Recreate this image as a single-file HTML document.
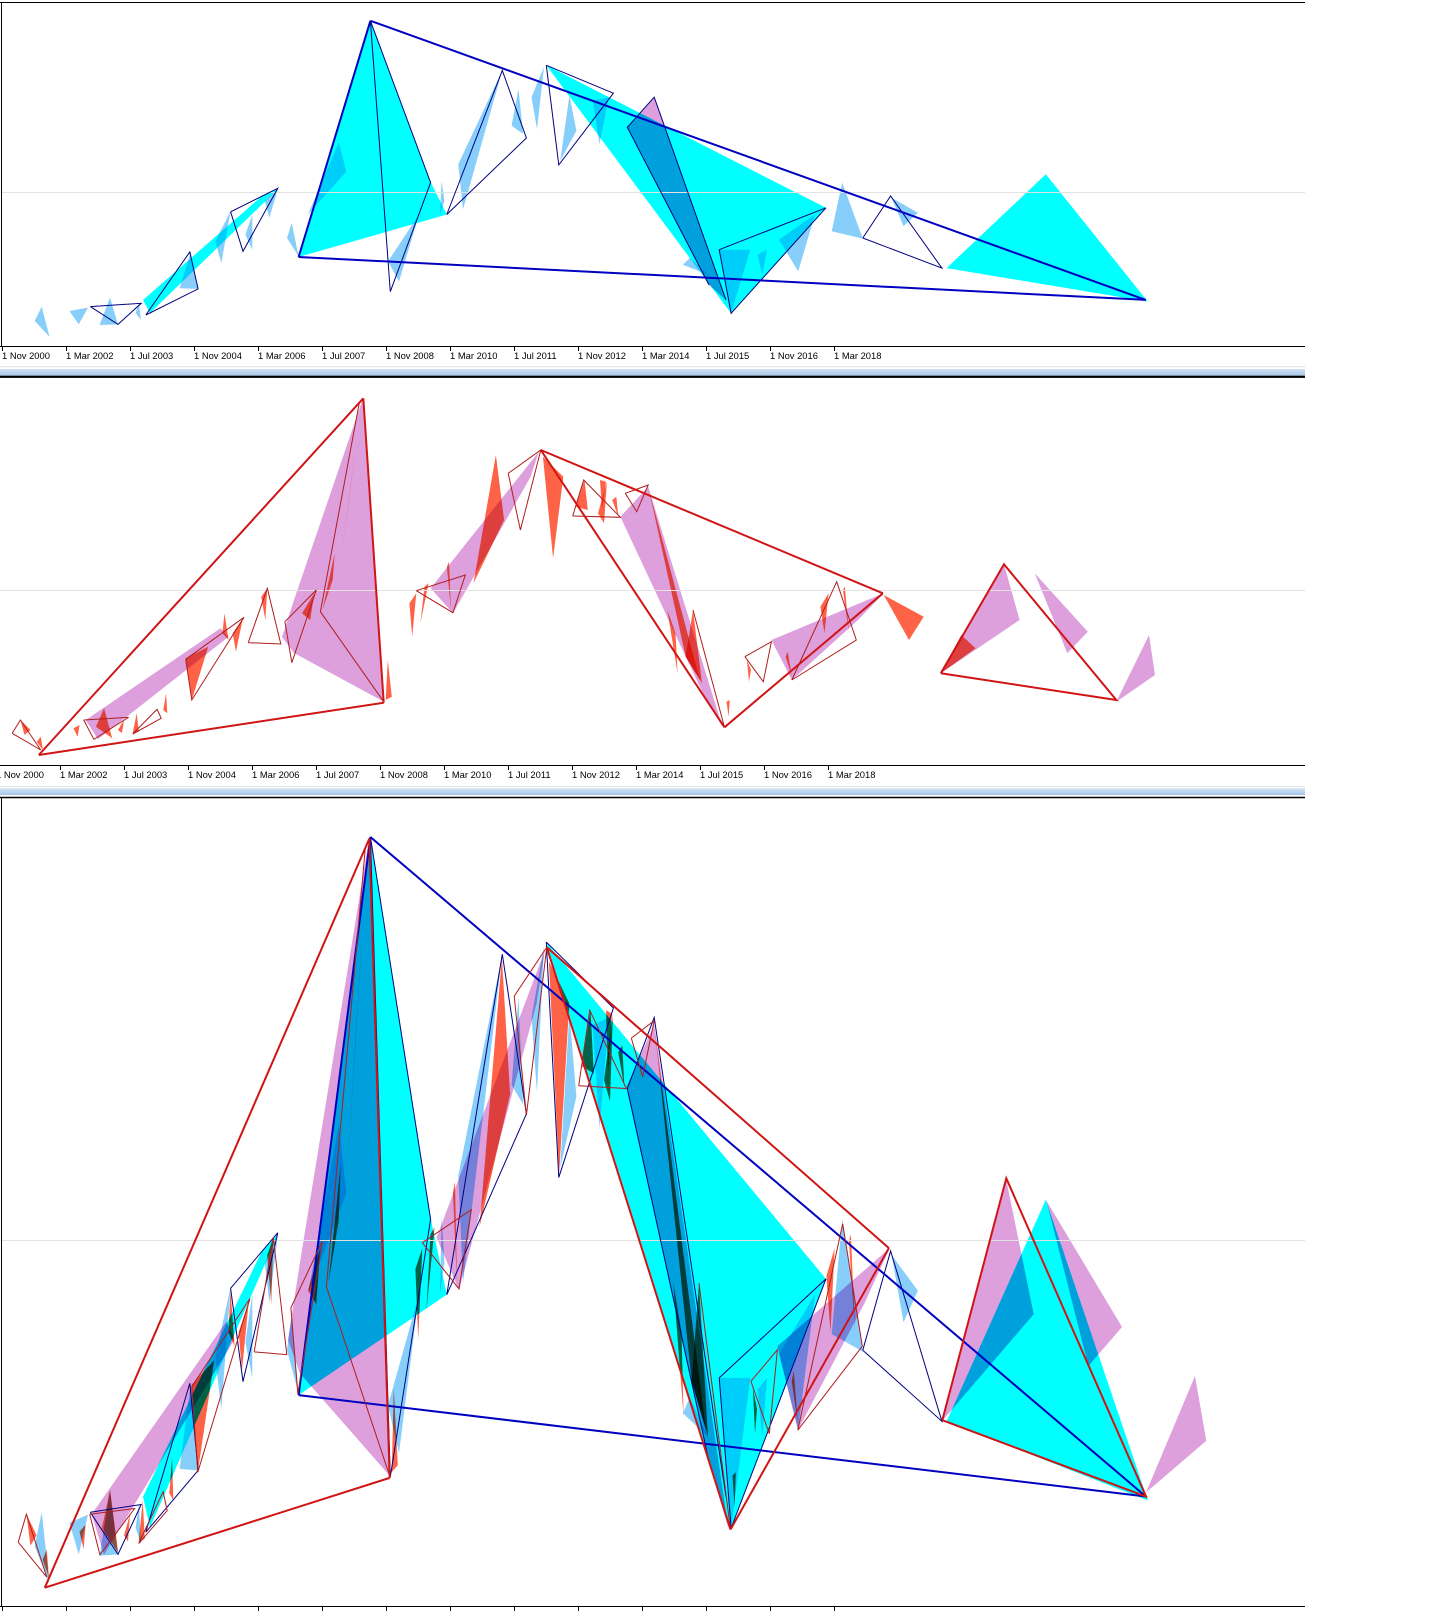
<!DOCTYPE html>
<html>
<head>
<meta charset="utf-8">
<style>
html,body{margin:0;padding:0;background:#fff;}
body{width:1451px;height:1620px;overflow:hidden;position:relative;}
svg{position:absolute;left:0;top:0;}
.c{fill:#00ffff}
.b{fill:#87cefa}
.p{fill:#dda0dd}
.o{fill:#ff6347}
.c,.b,.p,.o,.m{mix-blend-mode:multiply}
.k{stroke:#0000c0;stroke-width:2;fill:none}
.n{stroke:#000080;stroke-width:1;fill:none}
.r{stroke:#d01414;stroke-width:2;fill:none}
.f{stroke:#b01c1c;stroke-width:1;fill:none}
.k,.n,.r,.f{vector-effect:non-scaling-stroke}
.ax{stroke:#000;stroke-width:1;fill:none}
.gr{stroke:#e2e2e2;stroke-width:1}
text{font-family:"Liberation Sans",Arial,sans-serif;font-size:9.4px;fill:#000;}
</style>
</head>
<body>
<svg width="1451" height="1620" viewBox="0 0 1451 1620" xmlns="http://www.w3.org/2000/svg">
<defs>
  <linearGradient id="sep" x1="0" y1="0" x2="0" y2="1">
    <stop offset="0" stop-color="#d2e3f4"/>
    <stop offset="1" stop-color="#a3c6e7"/>
  </linearGradient>
  <clipPath id="c1"><rect x="2" y="3" width="1303" height="343"/></clipPath>
  <clipPath id="c2"><rect x="0" y="379" width="1305" height="386"/></clipPath>
  <clipPath id="c3"><rect x="2" y="798" width="1303" height="808"/></clipPath>

  <!-- BLUE SET fills (panel 1 coordinates) -->
  <g id="blueF">
    <polygon class="c" points="298.6,257 370.4,20.8 432,185 446.8,214.5"/>
    <polygon class="c" points="546.3,65.3 826,207.8 731,313.3"/>
    <polygon class="c" points="1045.8,174.3 1147.8,301.6 946.6,268.1"/>
    <polygon class="c" points="143,300 262,196 278,189 150,313"/>

    <polygon class="b" points="34.7,321 41.7,306.6 49.5,336.8"/>
    <polygon class="b" points="69.4,311 88,307.6 78.7,324.4"/>
    <polygon class="b" points="99.5,325 110,297.6 118,324.4"/>
    <polygon class="b" points="135.6,313 138.9,303 141,320"/>
    <polygon class="b" points="179.6,288.2 190.7,252 198,288.9"/>
    <polygon class="b" points="215.3,241.3 230.6,211.1 221.3,263.1"/>
    <polygon class="b" points="245.4,234.6 252.3,214.5 252.3,249.7"/>
    <polygon class="b" points="264.8,201 277.8,189.3 269.4,217.8"/>
    <polygon class="b" points="287,238 291.7,222.9 298.6,256.4"/>
    <polygon class="b" points="307.9,214.5 338.9,142.4 346.3,171.6"/>
    <polygon class="b" points="388,261.4 419,214.5 399,281.5"/>
    <polygon class="b" points="441.6,181 444.4,201 440,214.5"/>
    <polygon class="b" points="458.3,164.2 502.3,70.4 463,209.4"/>
    <polygon class="b" points="511.6,125.7 518.5,88.8 523.1,134"/>
    <polygon class="b" points="531.5,97.2 544,67 537,129"/>
    <polygon class="b" points="560.2,160.9 569.4,95.5 576.4,130.7"/>
    <polygon class="b" points="592.6,100.5 608.8,97.2 599.5,144.1"/>
    <polygon class="b" points="682.9,264.7 689.8,258 708.3,274.8"/>
    <polygon class="b" points="719.2,249.7 750.3,249.7 731.1,313.3"/>
    <polygon class="b" points="757.5,254.7 767,249.7 762.3,274.8"/>
    <polygon class="b" points="779,239.6 815,214.5 798.2,271.4"/>
    <polygon class="b" points="842.2,182.6 831.7,231.2 862.8,238.6"/>
    <polygon class="b" points="891.6,197.7 917.9,212.8 903.5,226.2"/>
  </g>

  <!-- BLUE SET lines -->
  <g id="blueL">
    <polyline class="n" points="90.3,306.6 141.2,303.3 118,324.4 90.3,306.6"/>
    <polyline class="n" points="145.8,315 189.8,252 198.1,288.9 145.8,315"/>
    <polyline class="n" points="230.6,211.8 277.8,188.3 243,251.3 230.6,211.8"/>
    <polyline class="n" points="370.4,20.8 390.3,291.6 430.6,182.6 370.4,20.8"/>
    <polyline class="n" points="446.8,214.5 502.3,70.4 526.4,138 446.8,214.5"/>
    <polyline class="n" points="546.3,65.3 613.4,93.2 558.8,164.9 546.3,65.3"/>
    <polyline class="n" points="709,285 627.3,127.3 654.2,97.2 726,300"/>
    <polyline class="n" points="719.2,249.7 826,207.8 731.1,313.3 719.2,249.7"/>
    <polyline class="n" points="862.8,238 890.6,196 941.9,268.1 862.8,238"/>

    <line class="k" x1="370.4" y1="20.8" x2="1145.8" y2="299.9"/>
    <line class="k" x1="298.6" y1="257" x2="1145.8" y2="299.9"/>
    <line class="k" x1="298.6" y1="257" x2="370.4" y2="20.8"/>
  </g>

  <!-- RED SET fills (panel 2 coordinates) -->
  <g id="redF">
    <polygon class="p" points="362.4,400 294,600 282,637 294,653 383.7,701.7"/>
    <polygon class="p" points="85.7,720 220.4,628.3 228.6,636.7 98,739.3"/>
    <polygon class="p" points="430.6,588.3 538.8,451.7 530.6,476.7 453,613.3"/>
    <polygon class="p" points="620.4,516.7 648.2,486.7 722.4,726.7 706,700"/>
    <polygon class="p" points="771.4,640 883.7,593.3 858,620 791.8,680"/>

    <polygon class="o" points="185.7,658.3 208.2,646.7 191.8,700"/>
    <polygon class="o" points="473.5,583.3 495.9,455 504.1,520"/>
    <polygon class="o" points="542.9,456.7 563.3,476.7 553.1,558.3"/>
    <polygon class="o" points="575.5,506.7 584.5,480 587.8,510"/>
    <polygon class="o" points="598,513.3 606.9,481.7 604,523.3"/>
    <polygon class="o" points="340.8,563 357,437 350,490"/>
    <polygon class="o" points="322.4,610 334.7,553.3 332.7,580"/>
    <polygon class="o" points="302,613.3 314.3,593.3 310.2,620"/>
    <polygon class="o" points="261.2,596.7 267.3,588.3 265.3,620"/>
    <polygon class="o" points="222.4,633.3 224.5,613.3 228.6,640"/>
    <polygon class="o" points="232.7,633.3 242.9,618.3 235.9,651.7"/>
    <polygon class="o" points="387.8,660 391.8,696.7 385.7,700"/>
    <polygon class="o" points="409.4,603.3 416.3,593.3 412.2,636.7"/>
    <polygon class="o" points="424.5,586.7 428.6,583.3 420.4,623.3"/>
    <polygon class="o" points="446.9,566.7 449,561.7 451,610"/>
    <polygon class="o" points="20.4,720 30.6,730 24.5,735"/>
    <polygon class="o" points="36.7,741.7 40.8,736.7 42.9,750"/>
    <polygon class="o" points="73.5,728.3 79.6,725 77.6,736.7"/>
    <polygon class="o" points="95.9,726.7 104.1,708.3 112.2,738.3"/>
    <polygon class="o" points="118,730 124,720 122,733"/>
    <polygon class="o" points="132.7,733.3 136.7,713.3 138.8,731.7"/>
    <polygon class="o" points="163.3,710 166.1,693.3 167.3,713.3"/>
    <polygon class="o" points="600,480 606,481.7 602,510"/>
    <polygon class="o" points="612.2,500 616.3,496.7 618.4,516.7"/>
    <polygon class="o" points="649,490 657,520 700,680 685.7,656.7"/>
    <polygon class="o" points="667.3,610 675.5,633.3 677.6,673.3"/>
    <polygon class="o" points="685.7,656.7 693,610 702,683.3"/>
    <polygon class="o" points="726.5,701.7 729.8,700 728.6,716.7"/>
    <polygon class="o" points="746.9,660 751,670 749,681.7"/>
    <polygon class="o" points="785.7,656.7 787.8,651.7 791.8,676.7"/>
    <polygon class="o" points="820.4,606.7 828.6,593.3 824.5,633.3"/>
    <polygon class="o" points="842.9,590 844.9,586.7 849,633.3"/>
  </g>

  <!-- RED SET lines -->
  <g id="redL">
    <polyline class="f" points="12.2,733.3 20.4,720 40.8,750 12.2,733.3"/>
    <polyline class="f" points="83.7,720 128.6,717.3 93.9,739.3 83.7,720"/>
    <polyline class="f" points="132.7,734 157.1,709.3 161.2,718.3 132.7,734"/>
    <polyline class="f" points="185.7,659.3 244,617.3 191.8,700 185.7,659.3"/>
    <polyline class="f" points="248.2,642.7 267.3,588.3 280.8,644 248.2,642.7"/>
    <polyline class="f" points="284.9,621.7 316.3,590 291.8,662.7 284.9,621.7"/>
    <polyline class="f" points="359.2,403.3 320.4,611.7 383.7,701.7"/>
    <polyline class="f" points="508.2,473.3 540.8,450 520.4,530 508.2,473.3"/>
    <polyline class="f" points="416.3,590.7 465.3,575 453,612.7 416.3,590.7"/>
    <polyline class="f" points="572.7,516 583.7,480 620.4,517.3 572.7,516"/>
    <polyline class="f" points="625.3,493.3 648.2,485 636.7,511.7 625.3,493.3"/>
    <polyline class="f" points="744.9,656.7 771.4,641.7 763.3,681.7 744.9,656.7"/>
    <polyline class="f" points="791.8,680 836.7,581.7 856.3,640 791.8,680"/>
    <line class="f" x1="693" y1="610" x2="724.5" y2="727.3"/>

    <line class="r" x1="38.8" y1="755" x2="363.3" y2="398.3"/>
    <line class="r" x1="38.8" y1="755" x2="383.7" y2="702.7"/>
    <line class="r" x1="363.3" y1="398.3" x2="383.7" y2="702.7"/>
    <line class="r" x1="540.8" y1="450" x2="724.5" y2="727.3"/>
    <line class="r" x1="540.8" y1="450" x2="882.9" y2="593.3"/>
    <line class="r" x1="724.5" y1="727.3" x2="882.9" y2="593.3"/>
  </g>
</defs>

<!-- ================= PANEL 1 ================= -->
<g clip-path="url(#c1)">
  <polygon class="p" points="627.3,127.3 654.2,97.2 726,300 709,285"/>
  <use class="m" href="#blueF"/>
  <line class="gr" x1="0" y1="192.5" x2="1305" y2="192.5"/>
  <use href="#blueL"/>
</g>
<line class="ax" x1="0" y1="2.5" x2="1305" y2="2.5"/>
<line class="ax" x1="1.5" y1="2" x2="1.5" y2="347"/>
<line class="ax" x1="0" y1="346.5" x2="1305" y2="346.5"/>
<g class="ax">
  <path d="M2.5 347V351M66.5 347V351M130.5 347V351M194.5 347V351M258.5 347V351M322.5 347V351M386.5 347V351M450.5 347V351M514.5 347V351M578.5 347V351M642.5 347V351M706.5 347V351M770.5 347V351M834.5 347V351"/>
</g>
<g>
  <text x="2" y="359">1 Nov 2000</text>
  <text x="66" y="359">1 Mar 2002</text>
  <text x="130" y="359">1 Jul 2003</text>
  <text x="194" y="359">1 Nov 2004</text>
  <text x="258" y="359">1 Mar 2006</text>
  <text x="322" y="359">1 Jul 2007</text>
  <text x="386" y="359">1 Nov 2008</text>
  <text x="450" y="359">1 Mar 2010</text>
  <text x="514" y="359">1 Jul 2011</text>
  <text x="578" y="359">1 Nov 2012</text>
  <text x="642" y="359">1 Mar 2014</text>
  <text x="706" y="359">1 Jul 2015</text>
  <text x="770" y="359">1 Nov 2016</text>
  <text x="834" y="359">1 Mar 2018</text>
</g>

<!-- separator 1 -->
<rect x="0" y="366" width="1305" height="1.2" fill="#e6e6e6"/>
<rect x="0" y="369" width="1305" height="6.8" fill="url(#sep)"/>
<rect x="0" y="375.7" width="1305" height="2.2" fill="#000"/>

<!-- ================= PANEL 2 ================= -->
<g clip-path="url(#c2)">
  <use class="m" href="#redF"/>
  <polygon class="p" points="940.8,673.3 1004,564.3 1019.6,620"/>
  <polygon class="o" points="940.8,673.3 961.2,635 975.5,648.3"/>
  <polygon class="p" points="1034.7,573.3 1087.8,631.7 1067.3,653.3"/>
  <polygon class="p" points="1116.3,701.7 1149,635 1155,675"/>
  <polygon class="o" points="883.7,595 923.7,616.7 909,640"/>
  <line class="gr" x1="0" y1="590.5" x2="1305" y2="590.5"/>
  <use href="#redL"/>
  <polyline class="r" points="940.8,673.3 1004,564.3 1116.3,700 940.8,673.3"/>
</g>
<line class="ax" x1="0" y1="765.5" x2="1305" y2="765.5"/>
<g class="ax">
  <path d="M60.5 766V770M124.5 766V770M188.5 766V770M252.5 766V770M316.5 766V770M380.5 766V770M444.5 766V770M508.5 766V770M572.5 766V770M636.5 766V770M700.5 766V770M764.5 766V770M828.5 766V770"/>
</g>
<g>
  <text x="-4" y="778">1 Nov 2000</text>
  <text x="60" y="778">1 Mar 2002</text>
  <text x="124" y="778">1 Jul 2003</text>
  <text x="188" y="778">1 Nov 2004</text>
  <text x="252" y="778">1 Mar 2006</text>
  <text x="316" y="778">1 Jul 2007</text>
  <text x="380" y="778">1 Nov 2008</text>
  <text x="444" y="778">1 Mar 2010</text>
  <text x="508" y="778">1 Jul 2011</text>
  <text x="572" y="778">1 Nov 2012</text>
  <text x="636" y="778">1 Mar 2014</text>
  <text x="700" y="778">1 Jul 2015</text>
  <text x="764" y="778">1 Nov 2016</text>
  <text x="828" y="778">1 Mar 2018</text>
</g>

<!-- separator 2 -->
<rect x="0" y="786" width="1305" height="1.2" fill="#e6e6e6"/>
<rect x="0" y="788.3" width="1305" height="6.8" fill="url(#sep)"/>

<!-- ================= PANEL 3 ================= -->
<g clip-path="url(#c3)">
  <use class="m" href="#blueF" transform="matrix(1 0 0 2.363 0 787.8)"/>
  <use class="m" href="#redF" transform="matrix(1 0 0 2.1 6 2.2)"/>
  <polygon class="p" points="943,1420 1006.3,1180 1033.7,1314.2"/>
  <polygon class="p" points="1046.3,1200.5 1122,1327 1088.4,1366"/>
  <polygon class="p" points="1146,1492.5 1195,1376 1206.3,1440.8"/>
  <line class="gr" x1="0" y1="1240.5" x2="1305" y2="1240.5"/>
  <use href="#blueL" transform="matrix(1 0 0 2.363 0 787.8)"/>
  <use href="#redL" transform="matrix(1 0 0 2.1 6 2.2)"/>
  <polyline class="r" points="942.3,1420.2 1006.3,1178.3 1146.1,1496.6 942.3,1420.2"/>
</g>
<line class="ax" x1="0" y1="797.5" x2="1305" y2="797.5" style="stroke-width:1.5"/>
<line class="ax" x1="1.5" y1="797" x2="1.5" y2="1607"/>
<line class="ax" x1="0" y1="1606.5" x2="1305" y2="1606.5"/>
<g class="ax">
  <path d="M2.5 1607V1611M66.5 1607V1611M130.5 1607V1611M194.5 1607V1611M258.5 1607V1611M322.5 1607V1611M386.5 1607V1611M450.5 1607V1611M514.5 1607V1611M578.5 1607V1611M642.5 1607V1611M706.5 1607V1611M770.5 1607V1611M834.5 1607V1611"/>
</g>
</svg>
</body>
</html>
